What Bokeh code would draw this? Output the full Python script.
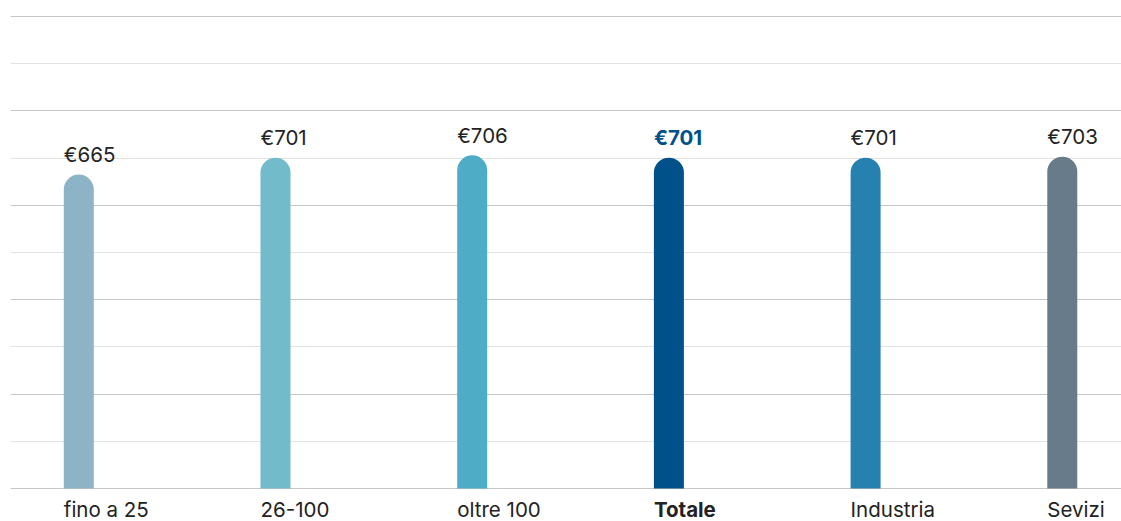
from bokeh.plotting import figure
from bokeh.models import ColumnDataSource, FixedTicker, Range1d
from bokeh.core.properties import value
from bokeh.embed import file_html
from bokeh.resources import INLINE

categories = ["fino a 25", "26-100", "oltre 100", "Totale", "Industria", "Sevizi"]
values = [665, 701, 706, 701, 701, 703]
value_labels = ["€665", "€701", "€706", "€701", "€701", "€703"]
bar_colors = ["#8cb4c6", "#72bbcb", "#4eacc6", "#005089", "#2680b0", "#687b89"]
value_label_colors = ["#222222", "#222222", "#222222", "#00508a", "#222222", "#222222"]
font_styles = ["normal", "normal", "normal", "bold", "normal", "normal"]
major_ticks = [0, 200, 400, 600, 800, 1000]
minor_ticks = [100, 300, 500, 700, 900]

FONT = "Inter"
BAR_W = 0.1525

xs = list(range(len(categories)))
src = ColumnDataSource(dict(
    x=xs,
    left=[x - BAR_W / 2 for x in xs],
    zero=[0] * len(xs),
    value=values,
    vlabel=value_labels,
    cat=categories,
    color=bar_colors,
    lcolor=value_label_colors,
    fstyle=font_styles,
))

p = figure(width=1121, height=521, output_backend="svg", toolbar_location=None,
           x_range=Range1d(-0.3472, 5.301), y_range=Range1d(-69.9, 1004.24),
           min_border_left=10, min_border_right=0, min_border_top=14, min_border_bottom=0)
p.outline_line_color = None
p.xaxis.visible = False
p.yaxis.visible = False
p.xgrid.grid_line_color = None
p.ygrid.ticker = FixedTicker(ticks=major_ticks, minor_ticks=minor_ticks)
p.ygrid.grid_line_color = "#c6c6c6"
p.ygrid.grid_line_width = 1
p.ygrid.minor_grid_line_color = "#e2e2e2"
p.ygrid.minor_grid_line_width = 1
p.background_fill_color = "white"
p.border_fill_color = "white"

p.vbar(x="x", top="value", bottom=0, width=BAR_W, source=src,
       fill_color="color", line_color=None, border_radius=(15, 15, 0, 0))

p.text(x="left", y="value", text="vlabel", source=src, y_offset=-20,
       text_font=value(FONT), text_font_size="20.5px", text_color="lcolor",
       text_font_style="fstyle", text_align="left", text_baseline="alphabetic")

p.text(x="left", y="zero", text="cat", source=src, y_offset=21,
       text_font=value(FONT), text_font_size="20.5px", text_color="#222222",
       text_font_style="fstyle", text_align="left", text_baseline="alphabetic")

open("out.html", "w").write(file_html(p, INLINE))
